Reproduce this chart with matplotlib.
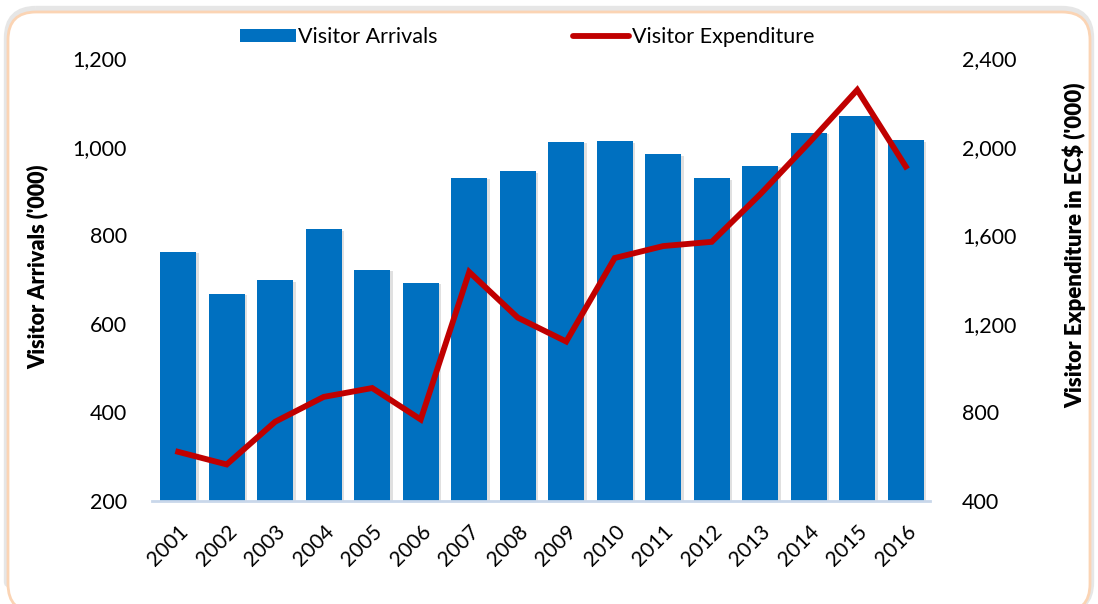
import numpy as np
import matplotlib.pyplot as plt
from matplotlib.patches import FancyBboxPatch, Patch
from matplotlib.lines import Line2D
from matplotlib.ticker import FuncFormatter, FixedLocator
import matplotlib.patheffects as pe

plt.rcParams['font.family'] = ['Lato', 'DejaVu Sans']

years = ['2001', '2002', '2003', '2004', '2005', '2006', '2007', '2008',
         '2009', '2010', '2011', '2012', '2013', '2014', '2015', '2016']
arrivals = [763, 668, 698, 813, 722, 692, 929, 944,
            1011, 1012, 983, 928, 957, 1031, 1070, 1014]
expenditure = [622, 565, 758, 870, 910, 768, 1434, 1228,
               1120, 1497, 1551, 1570, 1785, 2016, 2256, 1910]

BLUE = '#0070C0'
RED = '#C00000'

W, H = 1098, 604
fig = plt.figure(figsize=(W / 100, H / 100), dpi=100)

# background panel with rounded border
bg = fig.add_axes([0, 0, 1, 1], zorder=-5)
bg.set_xlim(0, W)
bg.set_ylim(H, 0)
bg.axis('off')
shadow = FancyBboxPatch((8, 10), 1082, 600, boxstyle='round,pad=0,rounding_size=28',
                        facecolor='none', edgecolor='#e6e6e6', linewidth=6)
bg.add_patch(shadow)
frame = FancyBboxPatch((8, 12), 1082, 600, boxstyle='round,pad=0,rounding_size=28',
                       facecolor='white', edgecolor='#FBD4B4', linewidth=2)
bg.add_patch(frame)

ax = fig.add_axes([152 / W, (H - 501) / H, (930 - 152) / W, (501 - 58) / H])
x = np.arange(len(years))
bars = ax.bar(x, [a - 200 for a in arrivals], bottom=200, width=0.74, color=BLUE, zorder=2)
for b in bars:
    b.set_path_effects([pe.SimplePatchShadow(offset=(2, -1), shadow_rgbFace='#9a9a9a', alpha=0.3),
                        pe.Normal()])

ax.set_ylim(200, 1200)
ax.set_xlim(-0.54, 15.5)
ax.yaxis.set_major_locator(FixedLocator(np.arange(200, 1201, 200)))
ax.yaxis.set_major_formatter(FuncFormatter(lambda v, p: f'{int(v):,}'))
ax.set_xticks(x)
ax.set_xticklabels(years, rotation=45, ha='right', va='top', rotation_mode='anchor')
ax.tick_params(axis='both', length=0, labelsize=15.5)
ax.tick_params(axis='x', labelsize=15, pad=15)
ax.tick_params(axis='y', pad=18)
for s in ['top', 'right', 'left']:
    ax.spines[s].set_visible(False)
ax.spines['bottom'].set_color('#C9D7EA')
ax.spines['bottom'].set_linewidth(2)
ax.set_ylabel("Visitor Arrivals ('000)", fontsize=15.5, fontweight='heavy', va='center')
ax.yaxis.set_label_coords(-0.1465, 0.528)

ax2 = ax.twinx()
ax2.plot(x, expenditure, color=RED, linewidth=4.2, solid_joinstyle='miter', zorder=3)
ax2.set_ylim(400, 2400)
ax2.yaxis.set_major_locator(FixedLocator(np.arange(400, 2401, 400)))
ax2.yaxis.set_major_formatter(FuncFormatter(lambda v, p: f'{int(v):,}'))
ax2.tick_params(axis='y', length=0, labelsize=15.5, pad=23)
for s in ['top', 'right', 'left', 'bottom']:
    ax2.spines[s].set_visible(False)
ax2.set_ylabel("Visitor Expenditure in EC$ ('000)", fontsize=16, fontweight='heavy', va='center')
ax2.yaxis.set_label_coords(1.186, 0.578)

handles = [Patch(facecolor=BLUE, edgecolor='none'),
           Line2D([0], [0], color=RED, linewidth=4.2, solid_capstyle='round')]
fig.legend(handles, ['Visitor Arrivals', 'Visitor Expenditure'], loc='center',
           bbox_to_anchor=(527 / W, 1 - 37 / H), ncol=2, frameon=False, fontsize=15.5,
           handlelength=2.6, handletextpad=0.12, columnspacing=6.3, handleheight=0.55)

fig.savefig('out.png', dpi=100)
